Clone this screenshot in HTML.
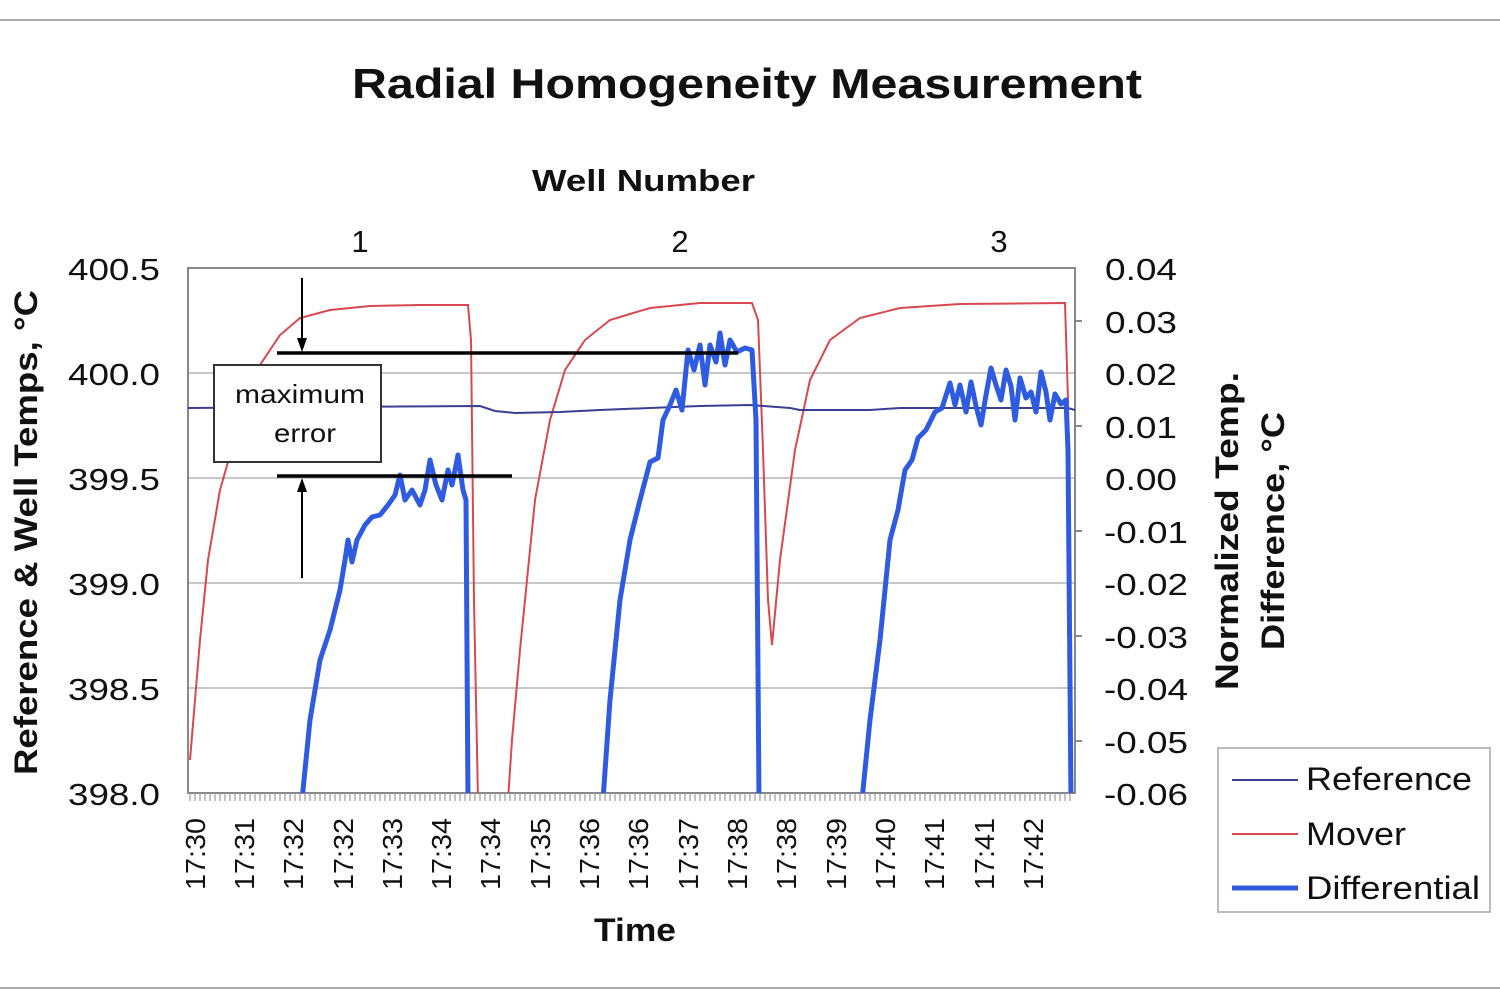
<!DOCTYPE html>
<html><head><meta charset="utf-8"><style>body{margin:0;background:#fff}svg{display:block}text{font-family:"Liberation Sans",Arial,sans-serif;fill:#111}</style></head>
<body>
<svg width="1500" height="1000" viewBox="0 0 1500 1000">
<line x1="0" y1="20" x2="1500" y2="20" stroke="#aaa" stroke-width="2"/>
<line x1="0" y1="988" x2="1500" y2="988" stroke="#aaa" stroke-width="2"/>
<text x="352" y="98" font-size="42" font-weight="bold" textLength="790" lengthAdjust="spacingAndGlyphs">Radial Homogeneity Measurement</text>
<text x="532" y="191" font-size="31" font-weight="bold" textLength="223" lengthAdjust="spacingAndGlyphs">Well Number</text>
<text x="360" y="252" font-size="31" text-anchor="middle">1</text>
<text x="680" y="252" font-size="31" text-anchor="middle">2</text>
<text x="999" y="252" font-size="31" text-anchor="middle">3</text>
<g stroke="#c8c8c8" stroke-width="2">
<line x1="188" y1="373" x2="1075" y2="373"/><line x1="188" y1="478" x2="1075" y2="478"/><line x1="188" y1="583" x2="1075" y2="583"/><line x1="188" y1="688" x2="1075" y2="688"/>
</g>
<rect x="188" y="268" width="887" height="525" fill="none" stroke="#888" stroke-width="2"/>
<g font-size="31" text-anchor="end">
<text x="160" y="280" textLength="92" lengthAdjust="spacingAndGlyphs">400.5</text><text x="160" y="385" textLength="92" lengthAdjust="spacingAndGlyphs">400.0</text><text x="160" y="490" textLength="92" lengthAdjust="spacingAndGlyphs">399.5</text><text x="160" y="595" textLength="92" lengthAdjust="spacingAndGlyphs">399.0</text><text x="160" y="700" textLength="92" lengthAdjust="spacingAndGlyphs">398.5</text><text x="160" y="805" textLength="92" lengthAdjust="spacingAndGlyphs">398.0</text>
</g>
<g font-size="31">
<text x="1105" y="280" textLength="72" lengthAdjust="spacingAndGlyphs">0.04</text><text x="1105" y="333" textLength="72" lengthAdjust="spacingAndGlyphs">0.03</text><text x="1105" y="385" textLength="72" lengthAdjust="spacingAndGlyphs">0.02</text><text x="1105" y="438" textLength="72" lengthAdjust="spacingAndGlyphs">0.01</text><text x="1105" y="490" textLength="72" lengthAdjust="spacingAndGlyphs">0.00</text><text x="1104" y="543" textLength="84" lengthAdjust="spacingAndGlyphs">-0.01</text><text x="1104" y="595" textLength="84" lengthAdjust="spacingAndGlyphs">-0.02</text><text x="1104" y="648" textLength="84" lengthAdjust="spacingAndGlyphs">-0.03</text><text x="1104" y="700" textLength="84" lengthAdjust="spacingAndGlyphs">-0.04</text><text x="1104" y="753" textLength="84" lengthAdjust="spacingAndGlyphs">-0.05</text><text x="1104" y="805" textLength="84" lengthAdjust="spacingAndGlyphs">-0.06</text>
</g>
<g stroke="#888" stroke-width="2">
<line x1="1075" y1="321" x2="1082" y2="321"/><line x1="1075" y1="426" x2="1082" y2="426"/><line x1="1075" y1="531" x2="1082" y2="531"/><line x1="1075" y1="636" x2="1082" y2="636"/><line x1="1075" y1="741" x2="1082" y2="741"/>
</g>
<path d="M190 793v8M195 793v8M200 793v8M205 793v8M210 793v8M215 793v8M220 793v8M225 793v8M230 793v8M235 793v8M240 793v8M245 793v8M250 793v8M255 793v8M260 793v8M265 793v8M270 793v8M275 793v8M280 793v8M285 793v8M290 793v8M295 793v8M300 793v8M305 793v8M310 793v8M315 793v8M320 793v8M325 793v8M330 793v8M335 793v8M340 793v8M345 793v8M350 793v8M355 793v8M360 793v8M365 793v8M370 793v8M375 793v8M380 793v8M385 793v8M390 793v8M395 793v8M400 793v8M405 793v8M410 793v8M415 793v8M420 793v8M425 793v8M430 793v8M435 793v8M440 793v8M445 793v8M450 793v8M455 793v8M460 793v8M465 793v8M470 793v8M475 793v8M480 793v8M485 793v8M490 793v8M495 793v8M500 793v8M505 793v8M510 793v8M515 793v8M520 793v8M525 793v8M530 793v8M535 793v8M540 793v8M545 793v8M550 793v8M555 793v8M560 793v8M565 793v8M570 793v8M575 793v8M580 793v8M585 793v8M590 793v8M595 793v8M600 793v8M605 793v8M610 793v8M615 793v8M620 793v8M625 793v8M630 793v8M635 793v8M640 793v8M645 793v8M650 793v8M655 793v8M660 793v8M665 793v8M670 793v8M675 793v8M680 793v8M685 793v8M690 793v8M695 793v8M700 793v8M705 793v8M710 793v8M715 793v8M720 793v8M725 793v8M730 793v8M735 793v8M740 793v8M745 793v8M750 793v8M755 793v8M760 793v8M765 793v8M770 793v8M775 793v8M780 793v8M785 793v8M790 793v8M795 793v8M800 793v8M805 793v8M810 793v8M815 793v8M820 793v8M825 793v8M830 793v8M835 793v8M840 793v8M845 793v8M850 793v8M855 793v8M860 793v8M865 793v8M870 793v8M875 793v8M880 793v8M885 793v8M890 793v8M895 793v8M900 793v8M905 793v8M910 793v8M915 793v8M920 793v8M925 793v8M930 793v8M935 793v8M940 793v8M945 793v8M950 793v8M955 793v8M960 793v8M965 793v8M970 793v8M975 793v8M980 793v8M985 793v8M990 793v8M995 793v8M1000 793v8M1005 793v8M1010 793v8M1015 793v8M1020 793v8M1025 793v8M1030 793v8M1035 793v8M1040 793v8M1045 793v8M1050 793v8M1055 793v8M1060 793v8M1065 793v8M1070 793v8" stroke="#999" stroke-width="1.2"/>
<g font-size="28" fill="#222">
<text transform="translate(205,890) rotate(-90)" textLength="72" lengthAdjust="spacingAndGlyphs">17:30</text>
<text transform="translate(254,890) rotate(-90)" textLength="72" lengthAdjust="spacingAndGlyphs">17:31</text>
<text transform="translate(303,890) rotate(-90)" textLength="72" lengthAdjust="spacingAndGlyphs">17:32</text>
<text transform="translate(353,890) rotate(-90)" textLength="72" lengthAdjust="spacingAndGlyphs">17:32</text>
<text transform="translate(402,890) rotate(-90)" textLength="72" lengthAdjust="spacingAndGlyphs">17:33</text>
<text transform="translate(451,890) rotate(-90)" textLength="72" lengthAdjust="spacingAndGlyphs">17:34</text>
<text transform="translate(500,890) rotate(-90)" textLength="72" lengthAdjust="spacingAndGlyphs">17:34</text>
<text transform="translate(550,890) rotate(-90)" textLength="72" lengthAdjust="spacingAndGlyphs">17:35</text>
<text transform="translate(599,890) rotate(-90)" textLength="72" lengthAdjust="spacingAndGlyphs">17:36</text>
<text transform="translate(648,890) rotate(-90)" textLength="72" lengthAdjust="spacingAndGlyphs">17:36</text>
<text transform="translate(698,890) rotate(-90)" textLength="72" lengthAdjust="spacingAndGlyphs">17:37</text>
<text transform="translate(747,890) rotate(-90)" textLength="72" lengthAdjust="spacingAndGlyphs">17:38</text>
<text transform="translate(796,890) rotate(-90)" textLength="72" lengthAdjust="spacingAndGlyphs">17:38</text>
<text transform="translate(846,890) rotate(-90)" textLength="72" lengthAdjust="spacingAndGlyphs">17:39</text>
<text transform="translate(895,890) rotate(-90)" textLength="72" lengthAdjust="spacingAndGlyphs">17:40</text>
<text transform="translate(944,890) rotate(-90)" textLength="72" lengthAdjust="spacingAndGlyphs">17:41</text>
<text transform="translate(994,890) rotate(-90)" textLength="72" lengthAdjust="spacingAndGlyphs">17:41</text>
<text transform="translate(1043,890) rotate(-90)" textLength="72" lengthAdjust="spacingAndGlyphs">17:42</text>
</g>
<text x="594" y="941" font-size="32" font-weight="bold" textLength="82" lengthAdjust="spacingAndGlyphs">Time</text>
<text transform="translate(37,775) rotate(-90)" font-size="32" font-weight="bold" textLength="485" lengthAdjust="spacingAndGlyphs">Reference &amp; Well Temps, °C</text>
<text transform="translate(1238,690) rotate(-90)" font-size="32" font-weight="bold" textLength="318" lengthAdjust="spacingAndGlyphs">Normalized Temp.</text>
<text transform="translate(1284,650) rotate(-90)" font-size="32" font-weight="bold" textLength="238" lengthAdjust="spacingAndGlyphs">Difference, °C</text>
<svg x="188" y="268" width="887" height="525" viewBox="188 268 887 525" overflow="hidden">
<polyline fill="none" stroke="#d9484f" stroke-width="2" points="190,760 200,640 208,560 220,490 240,420 260,365 280,335 300,318 330,310 370,306 420,305 468,305 471,340 474,600 478,800 508,800 512,740 520,650 535,500 550,420 565,370 585,340 610,320 650,308 700,303 752,303 758,320 763,450 768,600 772,645 780,560 795,450 810,380 830,340 860,318 900,308 960,304 1065,303 1068,400 1072,800"/>
<polyline fill="none" stroke="#3b3f94" stroke-width="2" points="188,408 480,406 495,411 515,413 560,412 600,410 650,408 700,406 750,405 790,408 800,410 870,410 900,408 1068,408 1075,410"/>
<polyline fill="none" stroke="#2f5be0" stroke-width="5" stroke-linejoin="round" points="302,800 310,720 320,660 330,630 340,590 345,560 348,540 352,562 357,540 365,525 372,517 380,515 388,505 395,495 400,475 405,500 412,490 420,505 425,490 430,460 436,485 442,500 448,470 452,485 458,455 463,490 466,500 468,800"/>
<polyline fill="none" stroke="#2f5be0" stroke-width="5" stroke-linejoin="round" points="603,800 610,700 620,600 630,540 640,500 650,462 658,458 663,420 670,405 676,390 682,410 688,350 694,370 700,345 705,385 710,345 716,362 720,333 725,365 730,340 737,352 745,348 752,350 756,420 759,800"/>
<polyline fill="none" stroke="#2f5be0" stroke-width="5" stroke-linejoin="round" points="862,800 870,720 880,640 890,540 898,510 905,470 912,460 918,438 926,430 935,412 942,408 950,383 955,405 960,385 966,412 971,382 976,406 981,425 986,395 991,368 996,385 1001,400 1006,370 1011,386 1015,420 1020,378 1026,398 1031,392 1036,412 1041,372 1046,392 1050,420 1055,394 1061,404 1066,400 1068,450 1071,800"/>
</svg>
<g stroke="#000" stroke-width="3.5">
<line x1="277" y1="353" x2="738" y2="353"/><line x1="277" y1="476" x2="512" y2="476"/>
</g>
<g stroke="#000" stroke-width="2">
<line x1="302" y1="278" x2="302" y2="342"/><line x1="302" y1="578" x2="302" y2="488"/>
</g>
<polygon points="297,338 307,338 302,352" fill="#000"/>
<polygon points="297,492 307,492 302,478" fill="#000"/>
<rect x="214" y="365" width="167" height="97" fill="#fff" stroke="#333" stroke-width="2"/>
<text x="235" y="403" font-size="26" textLength="130" lengthAdjust="spacingAndGlyphs">maximum</text>
<text x="274" y="442" font-size="26" textLength="62" lengthAdjust="spacingAndGlyphs">error</text>
<rect x="1218" y="748" width="272" height="164" fill="#fff" stroke="#bbb" stroke-width="2"/>
<line x1="1232" y1="780" x2="1298" y2="780" stroke="#3b3f94" stroke-width="2"/>
<line x1="1232" y1="834" x2="1298" y2="834" stroke="#d9484f" stroke-width="2"/>
<line x1="1232" y1="888" x2="1298" y2="888" stroke="#2f5be0" stroke-width="5"/>
<text x="1306" y="790" font-size="32" textLength="166" lengthAdjust="spacingAndGlyphs">Reference</text>
<text x="1306" y="845" font-size="32" textLength="100" lengthAdjust="spacingAndGlyphs">Mover</text>
<text x="1306" y="899" font-size="32" textLength="174" lengthAdjust="spacingAndGlyphs">Differential</text>
</svg>
</body></html>
